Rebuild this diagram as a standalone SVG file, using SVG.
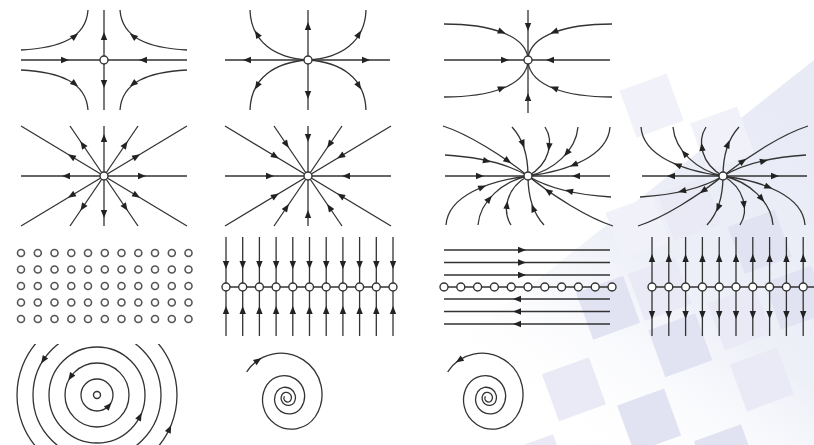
<svg xmlns="http://www.w3.org/2000/svg" width="814" height="445" viewBox="0 0 814 445">
<defs>
<style>
.l{fill:none;stroke:#333;stroke-width:1.3}
.c{fill:#fff;stroke:#333;stroke-width:1.4}
.a{fill:#222}
.s1{fill:#f1f1f9}
.s2{fill:#eaeaf6}
.s3{fill:#e2e3f2}
</style>
<linearGradient id="wash" x1="0.35" y1="0.9" x2="1" y2="0.2">
<stop offset="0" stop-color="#ffffff" stop-opacity="0"/>
<stop offset="0.5" stop-color="#eef0f8"/>
<stop offset="1" stop-color="#e8ebf6"/>
</linearGradient>
<path id="af" d="M4,0 L-4,-3.2 L-4,3.2 Z"/>
<path id="ar" d="M-4,0 L4,-3.2 L4,3.2 Z"/>
<clipPath id="cp12"><rect x="0" y="344" width="200" height="101"/></clipPath>
<g id="n6c">
<path class="l" d="M-85,-50 C-60,-42 -25,-20 0,0"/>
<path class="l" d="M-83,-21 C-50,-19 -20,-12 0,0"/>
<path class="l" d="M-16,-49 C-4,-36 0,-20 0,0"/>
<path class="l" d="M17,-49 C26,-35 22,-12 0,0"/>
<path class="l" d="M50,-49 C48,-25 25,-5 0,0"/>
<path class="l" d="M82,-49 C80,-20 40,-5 0,0"/>
</g>
<g id="n6af">
<use href="#af" transform="translate(-20,-15) rotate(35)"/>
<use href="#af" transform="translate(-41,-15) rotate(13)"/>
<use href="#af" transform="translate(-5,-32) rotate(68)"/>
<use href="#af" transform="translate(21,-29) rotate(97)"/>
<use href="#af" transform="translate(38.7,-22.8) rotate(130)"/>
<use href="#af" transform="translate(45.6,-11.1) rotate(158)"/>
<use href="#af" transform="translate(-48,0)"/>
</g>
<g id="n7ar">
<use href="#ar" transform="translate(-20,-15) rotate(35)"/>
<use href="#ar" transform="translate(-41,-15) rotate(13)"/>
<use href="#ar" transform="translate(-5,-32) rotate(68)"/>
<use href="#ar" transform="translate(21,-29) rotate(97)"/>
<use href="#ar" transform="translate(38.7,-22.8) rotate(130)"/>
<use href="#ar" transform="translate(45.6,-11.1) rotate(158)"/>
<use href="#ar" transform="translate(-52,0)"/>
</g>
<path id="spiral" class="l" d="M246.7,371.9 A40.95,40.95 0 0 1 315.4,416.5 A28.95,28.95 0 0 1 266.9,384.9 A20.5,20.5 0 0 1 301.3,407.3 A14.5,14.5 0 0 1 276.9,391.5 A10.25,10.25 0 0 1 294.1,402.6 A7.25,7.25 0 0 1 282,394.7 A5.12,5.12 0 0 1 290.6,400.3 A3.62,3.62 0 0 1 284.5,396.4"/>
</defs>
<rect width="814" height="445" fill="#fff"/>
<g id="background">
<polygon points="814,60 814,445 330,445" fill="url(#wash)"/>
<g transform="rotate(-20 600 300)">
<rect class="s1" x="690" y="110" width="50" height="50"/>
<rect class="s1" x="745" y="165" width="50" height="50"/>
<rect class="s2" x="690" y="220" width="50" height="50"/>
<rect class="s1" x="635" y="220" width="50" height="50"/>
<rect class="s3" x="580" y="285" width="50" height="50"/>
<rect class="s2" x="635" y="285" width="50" height="50"/>
<rect class="s3" x="745" y="275" width="50" height="50"/>
<rect class="s2" x="520" y="350" width="50" height="50"/>
<rect class="s3" x="635" y="345" width="50" height="50"/>
<rect class="s2" x="700" y="340" width="50" height="50"/>
<rect class="s3" x="760" y="340" width="50" height="50"/>
<rect class="s2" x="460" y="410" width="50" height="50"/>
<rect class="s3" x="580" y="405" width="50" height="50"/>
<rect class="s2" x="700" y="405" width="50" height="50"/>
<rect class="s1" x="520" y="465" width="50" height="50"/>
<rect class="s3" x="640" y="465" width="50" height="50"/>
</g>
</g>

<g id="saddle">
<path class="l" d="M21,60H187M104,10V110"/>
<path class="l" d="M21,50 C60,48 86,38 88,10M187,50 C148,48 122,38 120,10M21,70 C60,72 86,82 88,110M187,70 C148,72 122,82 120,110"/>
<g class="a">
<use href="#af" transform="translate(65,60)"/>
<use href="#af" transform="translate(143,60) rotate(180)"/>
<use href="#af" transform="translate(104,36) rotate(-90)"/>
<use href="#af" transform="translate(104,84) rotate(90)"/>
<use href="#af" transform="translate(75,36) rotate(-38)"/>
<use href="#af" transform="translate(133,36) rotate(-142)"/>
<use href="#af" transform="translate(75,84) rotate(38)"/>
<use href="#af" transform="translate(133,84) rotate(142)"/>
</g>
<circle class="c" cx="104" cy="60" r="4"/>
</g>

<g id="unstable-node">
<path class="l" d="M225,60H390M308,10V110"/>
<path class="l" d="M308,60 C275,58 251,42 250,10M308,60 C341,58 365,42 366,10M308,60 C275,62 251,78 250,110M308,60 C341,62 365,78 366,110"/>
<g class="a">
<use href="#af" transform="translate(247,60) rotate(180)"/>
<use href="#af" transform="translate(366,60)"/>
<use href="#af" transform="translate(308,26) rotate(-90)"/>
<use href="#af" transform="translate(308,95) rotate(90)"/>
<use href="#af" transform="translate(257,34) rotate(-121)"/>
<use href="#af" transform="translate(359,34) rotate(-59)"/>
<use href="#af" transform="translate(257,86) rotate(121)"/>
<use href="#af" transform="translate(359,86) rotate(59)"/>
</g>
<circle class="c" cx="308" cy="60" r="4"/>
</g>

<g id="stable-node">
<path class="l" d="M444,60H610M528,10V113"/>
<path class="l" d="M444,24 C490,24 525,35 528,58M612,24 C566,24 531,35 528,58M444,97 C490,97 525,86 528,62M612,97 C566,97 531,86 528,62"/>
<g class="a">
<use href="#af" transform="translate(505,60)"/>
<use href="#af" transform="translate(550,60) rotate(180)"/>
<use href="#af" transform="translate(528,27) rotate(90)"/>
<use href="#af" transform="translate(528,97) rotate(-90)"/>
<use href="#af" transform="translate(502,32) rotate(21)"/>
<use href="#af" transform="translate(554,32) rotate(159)"/>
<use href="#af" transform="translate(502,88) rotate(-21)"/>
<use href="#af" transform="translate(554,88) rotate(-159)"/>
</g>
<circle class="c" cx="528" cy="60" r="4"/>
</g>

<g id="unstable-star" transform="translate(104,176)">
<path class="l" d="M-83,0H83M0,-50V50M-83,-50L83,50M-83,50L83,-50M-34,-50L34,50M-34,50L34,-50"/>
<g class="a">
<use href="#af" transform="translate(38,0)"/>
<use href="#af" transform="translate(-38,0) rotate(180)"/>
<use href="#af" transform="translate(0,-38) rotate(-90)"/>
<use href="#af" transform="translate(0,38) rotate(90)"/>
<use href="#af" transform="translate(32.6,19.6) rotate(31)"/>
<use href="#af" transform="translate(-32.6,-19.6) rotate(-149)"/>
<use href="#af" transform="translate(32.6,-19.6) rotate(-31)"/>
<use href="#af" transform="translate(-32.6,19.6) rotate(149)"/>
<use href="#af" transform="translate(21.4,31.4) rotate(55.8)"/>
<use href="#af" transform="translate(-21.4,-31.4) rotate(-124.2)"/>
<use href="#af" transform="translate(21.4,-31.4) rotate(-55.8)"/>
<use href="#af" transform="translate(-21.4,31.4) rotate(124.2)"/>
</g>
<circle class="c" cx="0" cy="0" r="4"/>
</g>

<g id="stable-star" transform="translate(308,176)">
<path class="l" d="M-83,0H83M0,-50V50M-83,-50L83,50M-83,50L83,-50M-34,-50L34,50M-34,50L34,-50"/>
<g class="a">
<use href="#ar" transform="translate(38,0)"/>
<use href="#ar" transform="translate(-38,0) rotate(180)"/>
<use href="#ar" transform="translate(0,-38) rotate(-90)"/>
<use href="#ar" transform="translate(0,38) rotate(90)"/>
<use href="#ar" transform="translate(32.6,19.6) rotate(31)"/>
<use href="#ar" transform="translate(-32.6,-19.6) rotate(-149)"/>
<use href="#ar" transform="translate(32.6,-19.6) rotate(-31)"/>
<use href="#ar" transform="translate(-32.6,19.6) rotate(149)"/>
<use href="#ar" transform="translate(21.4,31.4) rotate(55.8)"/>
<use href="#ar" transform="translate(-21.4,-31.4) rotate(-124.2)"/>
<use href="#ar" transform="translate(21.4,-31.4) rotate(-55.8)"/>
<use href="#ar" transform="translate(-21.4,31.4) rotate(124.2)"/>
</g>
<circle class="c" cx="0" cy="0" r="4"/>
</g>

<g id="stable-degenerate" transform="translate(528,176)">
<path class="l" d="M-83,0H82"/>
<use href="#n6c"/>
<use href="#n6c" transform="rotate(180)"/>
<g class="a">
<use href="#n6af"/>
<use href="#n6af" transform="rotate(180)"/>
</g>
<circle class="c" cx="0" cy="0" r="4"/>
</g>

<g id="unstable-degenerate" transform="translate(723,176) scale(-1,1)">
<path class="l" d="M-84,0H81"/>
<use href="#n6c"/>
<use href="#n6c" transform="rotate(180)"/>
<g class="a">
<use href="#n7ar"/>
<use href="#n7ar" transform="rotate(180)"/>
</g>
<circle class="c" cx="0" cy="0" r="4"/>
</g>

<g id="grid-points" class="c" style="stroke:#555;stroke-width:1.6">
<circle cx="21" cy="253" r="3.5"/><circle cx="37.8" cy="253" r="3.5"/><circle cx="54.5" cy="253" r="3.5"/><circle cx="71.3" cy="253" r="3.5"/><circle cx="88" cy="253" r="3.5"/><circle cx="104.8" cy="253" r="3.5"/><circle cx="121.5" cy="253" r="3.5"/><circle cx="138.3" cy="253" r="3.5"/><circle cx="155" cy="253" r="3.5"/><circle cx="171.8" cy="253" r="3.5"/><circle cx="188.5" cy="253" r="3.5"/>
<circle cx="21" cy="269.5" r="3.5"/><circle cx="37.8" cy="269.5" r="3.5"/><circle cx="54.5" cy="269.5" r="3.5"/><circle cx="71.3" cy="269.5" r="3.5"/><circle cx="88" cy="269.5" r="3.5"/><circle cx="104.8" cy="269.5" r="3.5"/><circle cx="121.5" cy="269.5" r="3.5"/><circle cx="138.3" cy="269.5" r="3.5"/><circle cx="155" cy="269.5" r="3.5"/><circle cx="171.8" cy="269.5" r="3.5"/><circle cx="188.5" cy="269.5" r="3.5"/>
<circle cx="21" cy="286" r="3.5"/><circle cx="37.8" cy="286" r="3.5"/><circle cx="54.5" cy="286" r="3.5"/><circle cx="71.3" cy="286" r="3.5"/><circle cx="88" cy="286" r="3.5"/><circle cx="104.8" cy="286" r="3.5"/><circle cx="121.5" cy="286" r="3.5"/><circle cx="138.3" cy="286" r="3.5"/><circle cx="155" cy="286" r="3.5"/><circle cx="171.8" cy="286" r="3.5"/><circle cx="188.5" cy="286" r="3.5"/>
<circle cx="21" cy="302.5" r="3.5"/><circle cx="37.8" cy="302.5" r="3.5"/><circle cx="54.5" cy="302.5" r="3.5"/><circle cx="71.3" cy="302.5" r="3.5"/><circle cx="88" cy="302.5" r="3.5"/><circle cx="104.8" cy="302.5" r="3.5"/><circle cx="121.5" cy="302.5" r="3.5"/><circle cx="138.3" cy="302.5" r="3.5"/><circle cx="155" cy="302.5" r="3.5"/><circle cx="171.8" cy="302.5" r="3.5"/><circle cx="188.5" cy="302.5" r="3.5"/>
<circle cx="21" cy="319" r="3.5"/><circle cx="37.8" cy="319" r="3.5"/><circle cx="54.5" cy="319" r="3.5"/><circle cx="71.3" cy="319" r="3.5"/><circle cx="88" cy="319" r="3.5"/><circle cx="104.8" cy="319" r="3.5"/><circle cx="121.5" cy="319" r="3.5"/><circle cx="138.3" cy="319" r="3.5"/><circle cx="155" cy="319" r="3.5"/><circle cx="171.8" cy="319" r="3.5"/><circle cx="188.5" cy="319" r="3.5"/>
</g>

<g id="stable-line">
<path class="l" d="M226,287H393M226,237V336M242.7,237V336M259.4,237V336M276.1,237V336M292.8,237V336M309.5,237V336M326.2,237V336M342.9,237V336M359.6,237V336M376.3,237V336M393,237V336"/>
<g class="a">
<use href="#af" transform="translate(226,265) rotate(90)"/><use href="#af" transform="translate(242.7,265) rotate(90)"/><use href="#af" transform="translate(259.4,265) rotate(90)"/><use href="#af" transform="translate(276.1,265) rotate(90)"/><use href="#af" transform="translate(292.8,265) rotate(90)"/><use href="#af" transform="translate(309.5,265) rotate(90)"/><use href="#af" transform="translate(326.2,265) rotate(90)"/><use href="#af" transform="translate(342.9,265) rotate(90)"/><use href="#af" transform="translate(359.6,265) rotate(90)"/><use href="#af" transform="translate(376.3,265) rotate(90)"/><use href="#af" transform="translate(393,265) rotate(90)"/>
<use href="#af" transform="translate(226,310) rotate(-90)"/><use href="#af" transform="translate(242.7,310) rotate(-90)"/><use href="#af" transform="translate(259.4,310) rotate(-90)"/><use href="#af" transform="translate(276.1,310) rotate(-90)"/><use href="#af" transform="translate(292.8,310) rotate(-90)"/><use href="#af" transform="translate(309.5,310) rotate(-90)"/><use href="#af" transform="translate(326.2,310) rotate(-90)"/><use href="#af" transform="translate(342.9,310) rotate(-90)"/><use href="#af" transform="translate(359.6,310) rotate(-90)"/><use href="#af" transform="translate(376.3,310) rotate(-90)"/><use href="#af" transform="translate(393,310) rotate(-90)"/>
</g>
<g class="c">
<circle cx="226" cy="287" r="4"/><circle cx="242.7" cy="287" r="4"/><circle cx="259.4" cy="287" r="4"/><circle cx="276.1" cy="287" r="4"/><circle cx="292.8" cy="287" r="4"/><circle cx="309.5" cy="287" r="4"/><circle cx="326.2" cy="287" r="4"/><circle cx="342.9" cy="287" r="4"/><circle cx="359.6" cy="287" r="4"/><circle cx="376.3" cy="287" r="4"/><circle cx="393" cy="287" r="4"/>
</g>
</g>

<g id="shear-line">
<path class="l" d="M444,250H610M444,262.5H610M444,275H610M444,287H612M444,299H610M444,311.5H610M444,324H610"/>
<g class="a">
<use href="#af" transform="translate(522,250)"/><use href="#af" transform="translate(522,262.5)"/><use href="#af" transform="translate(522,275)"/>
<use href="#af" transform="translate(517,299) rotate(180)"/><use href="#af" transform="translate(517,311.5) rotate(180)"/><use href="#af" transform="translate(517,324) rotate(180)"/>
</g>
<g class="c">
<circle cx="444" cy="287" r="4"/><circle cx="460.8" cy="287" r="4"/><circle cx="477.6" cy="287" r="4"/><circle cx="494.4" cy="287" r="4"/><circle cx="511.2" cy="287" r="4"/><circle cx="528" cy="287" r="4"/><circle cx="544.8" cy="287" r="4"/><circle cx="561.6" cy="287" r="4"/><circle cx="578.4" cy="287" r="4"/><circle cx="595.2" cy="287" r="4"/><circle cx="612" cy="287" r="4"/>
</g>
</g>

<g id="unstable-line">
<path class="l" d="M648,287H814M652,237V336M668.8,237V336M685.6,237V336M702.4,237V336M719.2,237V336M736,237V336M752.8,237V336M769.6,237V336M786.4,237V336M803.2,237V336"/>
<g class="a">
<use href="#af" transform="translate(652,258) rotate(-90)"/><use href="#af" transform="translate(668.8,258) rotate(-90)"/><use href="#af" transform="translate(685.6,258) rotate(-90)"/><use href="#af" transform="translate(702.4,258) rotate(-90)"/><use href="#af" transform="translate(719.2,258) rotate(-90)"/><use href="#af" transform="translate(736,258) rotate(-90)"/><use href="#af" transform="translate(752.8,258) rotate(-90)"/><use href="#af" transform="translate(769.6,258) rotate(-90)"/><use href="#af" transform="translate(786.4,258) rotate(-90)"/><use href="#af" transform="translate(803.2,258) rotate(-90)"/>
<use href="#af" transform="translate(652,315) rotate(90)"/><use href="#af" transform="translate(668.8,315) rotate(90)"/><use href="#af" transform="translate(685.6,315) rotate(90)"/><use href="#af" transform="translate(702.4,315) rotate(90)"/><use href="#af" transform="translate(719.2,315) rotate(90)"/><use href="#af" transform="translate(736,315) rotate(90)"/><use href="#af" transform="translate(752.8,315) rotate(90)"/><use href="#af" transform="translate(769.6,315) rotate(90)"/><use href="#af" transform="translate(786.4,315) rotate(90)"/><use href="#af" transform="translate(803.2,315) rotate(90)"/>
</g>
<g class="c">
<circle cx="652" cy="287" r="4"/><circle cx="668.8" cy="287" r="4"/><circle cx="685.6" cy="287" r="4"/><circle cx="702.4" cy="287" r="4"/><circle cx="719.2" cy="287" r="4"/><circle cx="736" cy="287" r="4"/><circle cx="752.8" cy="287" r="4"/><circle cx="769.6" cy="287" r="4"/><circle cx="786.4" cy="287" r="4"/><circle cx="803.2" cy="287" r="4"/>
</g>
</g>

<g id="center">
<g class="l">
<circle cx="97" cy="395" r="16"/>
<circle cx="97" cy="395" r="32"/>
<circle cx="97" cy="395" r="48"/>
<g clip-path="url(#cp12)">
<circle cx="97" cy="395" r="64"/>
<circle cx="97" cy="395" r="80"/>
</g>
</g>
<g class="a">
<use href="#af" transform="translate(108.9,405.7) rotate(-48)"/>
<use href="#af" transform="translate(70.5,377.1) rotate(124)"/>
<use href="#af" transform="translate(139.9,416.4) rotate(-63.4)"/>
<use href="#af" transform="translate(43.3,360.1) rotate(123)"/>
<use href="#af" transform="translate(169.5,428.8) rotate(-65)"/>
</g>
<circle class="c" cx="97" cy="395" r="3.5"/>
</g>

<g id="stable-spiral">
<use href="#spiral"/>
<use href="#af" class="a" transform="translate(258.1,360.3) rotate(-34)"/>
</g>

<g id="unstable-spiral" transform="translate(201,0)">
<use href="#spiral"/>
<use href="#ar" class="a" transform="translate(258.1,360.3) rotate(-34)"/>
</g>
</svg>
